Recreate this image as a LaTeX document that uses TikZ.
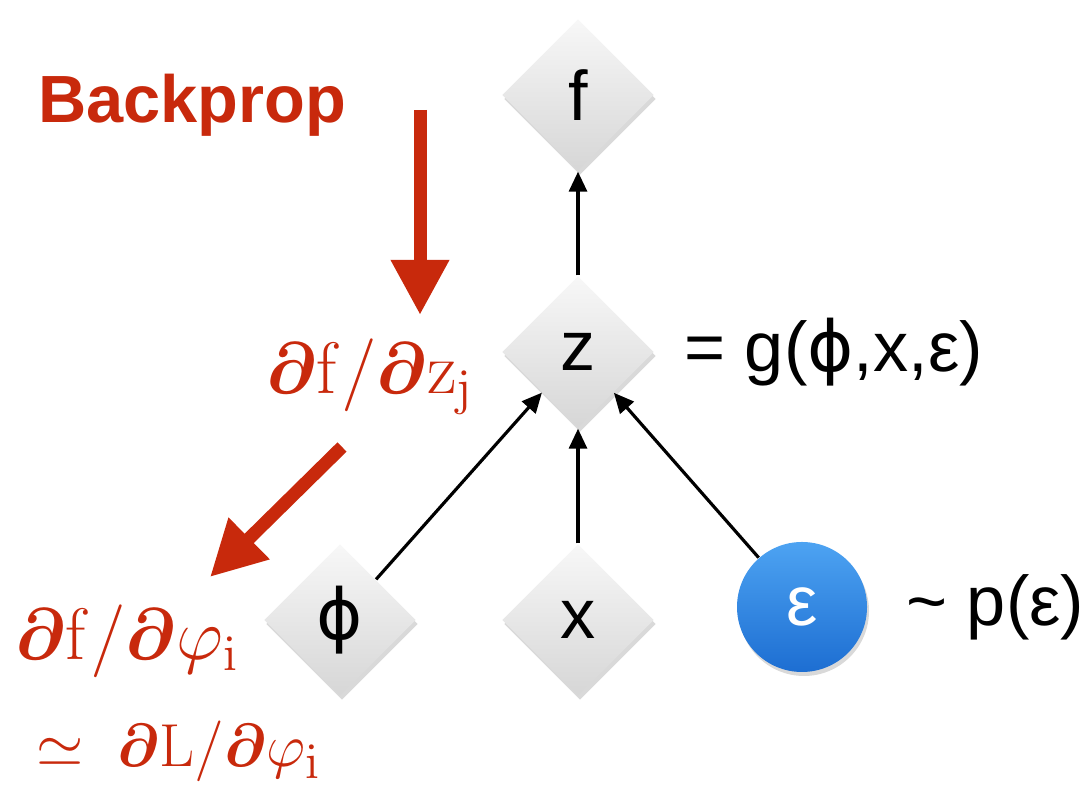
\documentclass[tikz,border=0pt]{standalone}
\usepackage{amsmath}
\usepackage[no-math]{fontspec}
\setmainfont{Liberation Sans}
\newfontfamily\symfont{DejaVu Sans}
\definecolor{bpred}{HTML}{C8290C}
\definecolor{epstop}{HTML}{4DA3F2}
\definecolor{epsbot}{HTML}{1D6ED2}
\usetikzlibrary{positioning, shapes.geometric, arrows.meta, shadows}

\begin{document}
\begin{tikzpicture}[
  var/.style={diamond, aspect=1, minimum width=1.52cm, minimum height=1.52cm,
              inner sep=0pt, top color=gray!6, bottom color=gray!32,
              drop shadow={opacity=0.3, shadow xshift=0.02cm, shadow yshift=-0.04cm},
              font=\fontsize{20}{24}\selectfont},
  noise/.style={circle, minimum size=1.3cm, inner sep=0pt,
                top color=epstop, bottom color=epsbot, text=white,
                drop shadow={opacity=0.3, shadow xshift=0.02cm, shadow yshift=-0.04cm},
                font=\fontsize{20}{24}\selectfont},
  edge/.style={-{Triangle[width=0.18cm,length=0.2cm]}, line width=0.9pt},
  bparrow/.style={-{Triangle[width=0.55cm,length=0.55cm]}, line width=0.13cm, bpred},
  bpmath/.style={bpred, font=\fontsize{21}{25}\selectfont, inner sep=0pt},
  side/.style={font=\fontsize{20}{24}\selectfont, inner sep=0pt},
]
\useasboundingbox (0,0) rectangle (10.83,7.92);

% graph
\node[var] (f) at (5.78,6.97) {f};
\node[var] (z) at (5.78,4.40) {z};
\node[var] (phi) at (3.40,1.72) {{\symfont ϕ}};
\node[var] (x) at (5.78,1.72) {x};
\node[noise] (eps) at (8.02,1.85) {ε};

\draw[edge] (z) -- (f);
\draw[edge] (phi) -- (z);
\draw[edge] (x) -- (z);
\draw[edge] (eps) -- (z);

\node[side, right=0.29cm of z] (zdef) {= g({\symfont ϕ},x,ε)};
\node[side, right=0.38cm of eps] (epsdist) {\textasciitilde\ p(ε)};

% backprop
\node[bpred, font=\fontsize{19}{23}\selectfont\bfseries] (bp) at (1.92,6.87) {Backprop};
\coordinate (bp1s) at (4.20,6.82);
\coordinate (bp1e) at (4.20,4.77);
\draw[bparrow] (bp1s) -- (bp1e);

\node[bpmath] (dz) at (3.70,4.15) {$\boldsymbol{\partial}\mathrm{f}/\boldsymbol{\partial}\mathrm{z_j}$};
\coordinate (bp2s) at (3.42,3.45);
\coordinate (bp2e) at (2.10,2.15);
\draw[bparrow] (bp2s) -- (bp2e);

\node[bpmath, font=\fontsize{20}{24}\selectfont] (dphi) at (1.27,1.51) {$\boldsymbol{\partial}\mathrm{f}/\boldsymbol{\partial}\varphi_{\mathrm{i}}$};
\node[bpmath, font=\fontsize{19}{23}\selectfont] (dL) at (1.79,0.41) {$\simeq\;\boldsymbol{\partial}\mathrm{L}/\boldsymbol{\partial}\varphi_{\mathrm{i}}$};
\end{tikzpicture}
\end{document}
